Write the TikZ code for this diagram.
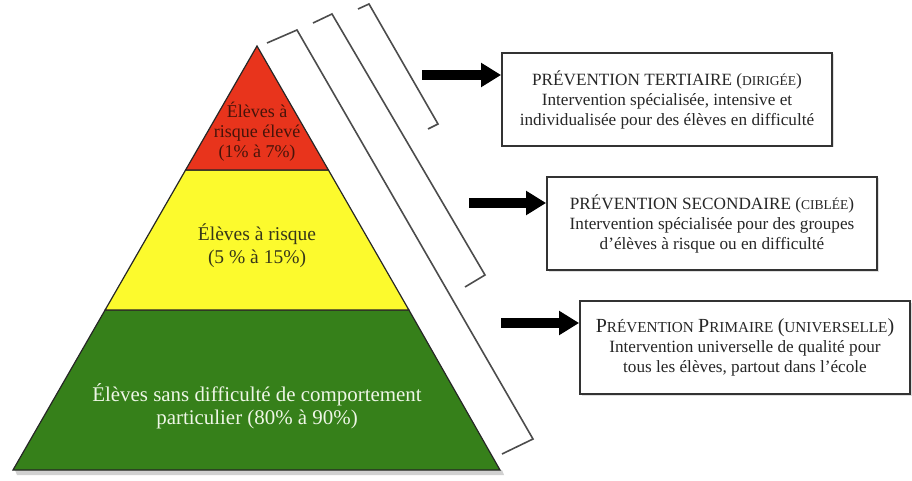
\documentclass[tikz,border=0pt]{standalone}
\usepackage{fontspec}
\setmainfont{Liberation Serif}
\usetikzlibrary{arrows.meta,shadows}
\definecolor{pred}{RGB}{232,52,28}
\definecolor{pyel}{RGB}{252,250,45}
\definecolor{pgrn}{RGB}{54,128,26}
\definecolor{tred}{RGB}{70,20,10}
\definecolor{tyel}{RGB}{55,55,25}
\definecolor{tgrn}{RGB}{238,246,230}
\newcommand\fsc[1]{{\fontsize{13.5}{13.5}\selectfont #1}}
\newcommand\fscb[1]{{\fontsize{15.2}{15.2}\selectfont #1}}
\newcommand\fbig[1]{{\fontsize{20}{20}\selectfont #1}}
\begin{document}
\begin{tikzpicture}[x=1pt,y=-1pt,
  tier/.style={draw=black!85, line width=1.2pt, line join=miter},
  brk/.style={draw=black!70, line width=1.6pt, line join=miter},
  infobox/.style={draw=black!80, line width=1.8pt, fill=white, minimum width=330pt, minimum height=93pt, inner sep=0pt, align=center, font=\fontsize{17.2}{20}\selectfont, text=black!85, drop shadow={shadow xshift=1.5pt, shadow yshift=-1.5pt, opacity=0.25}},
  bigarrow/.style={line width=9.5pt, black, -{Triangle[length=20pt,width=23pt]}},
  ptext/.style={align=center, inner sep=0pt}
]
\useasboundingbox (0,0) rectangle (912,481);
% pyramid shadow
\fill[black, opacity=0.18] (15,470) -- (502,470) -- (504,475) -- (17,475) -- cycle;
% pyramid tiers
\path[tier, fill=pgrn] (105.1,310) -- (408.9,310) -- (500,470) -- (13,470) -- cycle;
\path[tier, fill=pyel] (185.6,170) -- (328.4,170) -- (408.9,310) -- (105.1,310) -- cycle;
\path[tier, fill=pred] (257,46) -- (328.4,170) -- (185.6,170) -- cycle;
% tier labels
\node[ptext, text=tred, font=\fontsize{18}{20}\selectfont] (lred) at (257,132) {Élèves à\\risque élevé\\(1\% à 7\%)};
\node[ptext, text=tyel, font=\fontsize{19.5}{23}\selectfont] (lyel) at (257,245.5) {Élèves à risque\\(5 \% à 15\%)};
\node[ptext, text=tgrn, font=\fontsize{20.9}{23}\selectfont] (lgrn) at (257,406) {Élèves sans difficulté de comportement\\particulier (80\% à 90\%)};
% brackets
\draw[brk] (267,43) -- (297,30) -- (533,439) -- (502,454);
\draw[brk] (313,23) -- (332,14) -- (485,275) -- (465,287);
\draw[brk] (358,9) -- (369,4) -- (438,124) -- (428,129);
% boxes
\node[infobox] (box1) at (667,99.5) {PRÉVENTION TERTIAIRE (\fsc{DIRIGÉE})\\Intervention spécialisée, intensive et\\individualisée pour des élèves en difficulté};
\node[infobox] (box2) at (712,223.5) {PRÉVENTION SECONDAIRE (\fsc{CIBLÉE})\\Intervention spécialisée pour des groupes\\d’élèves à risque ou en difficulté};
\node[infobox, minimum width=330pt, minimum height=93pt] (box3) at (745,347.5) {\fbig{P}\fscb{RÉVENTION} \fbig{P}\fscb{RIMAIRE} \fbig{(}\fscb{UNIVERSELLE}\fbig{)}\\Intervention universelle de qualité pour\\tous les élèves, partout dans l’école};
% arrows
\coordinate (t1) at (422,75);
\coordinate (t2) at (469,203);
\coordinate (t3) at (501,323);
\draw[bigarrow] (t1) -- (t1 -| box1.west);
\draw[bigarrow] (t2) -- (t2 -| box2.west);
\draw[bigarrow] (t3) -- (t3 -| box3.west);
\end{tikzpicture}
\end{document}
